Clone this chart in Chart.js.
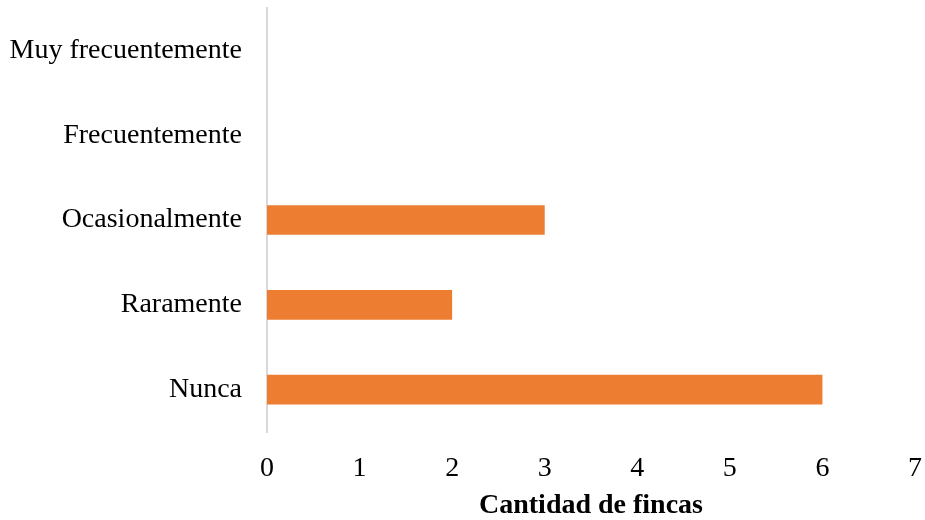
<!DOCTYPE html>
<html>
<head>
<meta charset="utf-8">
<script src="https://cdn.jsdelivr.net/npm/chart.js@4"></script>
<style>
  html, body { margin: 0; padding: 0; background: #fff; }
  #wrap { width: 925px; height: 520px; }
</style>
</head>
<body>
<div id="wrap"><canvas id="chart" width="925" height="520"></canvas></div>
<script>
const categorias = ['Muy frecuentemente', 'Frecuentemente', 'Ocasionalmente', 'Raramente', 'Nunca'];
const cantidades = [0, 0, 3, 2, 6];
const tituloEje = 'Cantidad de fincas';

const fuente = 'Liberation Serif, Times New Roman, serif';

// quitar el relleno extra que Chart.js añade por las etiquetas de los extremos
const sinRelleno = s => { s.paddingTop = 0; s.paddingBottom = 0; s.paddingLeft = 0; s.paddingRight = 0; };

new Chart(document.getElementById('chart').getContext('2d'), {
  type: 'bar',
  data: {
    labels: categorias,
    datasets: [{
      data: cantidades,
      backgroundColor: '#ED7D31',
      barPercentage: 0.7,
      categoryPercentage: 0.5
    }]
  },
  options: {
    indexAxis: 'y',
    responsive: false,
    animation: false,
    layout: { padding: { top: 8, left: 10, right: 10, bottom: 0 } },
    plugins: {
      legend: { display: false },
      tooltip: { enabled: false }
    },
    scales: {
      x: {
        min: 0,
        max: 7,
        afterFit: s => { sinRelleno(s); s.height = 88; },
        ticks: { stepSize: 1, color: '#000', font: { family: fuente, size: 28, lineHeight: 1.2 }, padding: 20 },
        grid: { display: false, drawTicks: false },
        border: { display: false },
        title: {
          display: true,
          text: tituloEje,
          color: '#000',
          font: { family: fuente, size: 28, weight: 'bold', lineHeight: 1.0 },
          padding: { top: 4, bottom: 0 }
        }
      },
      y: {
        afterFit: s => { sinRelleno(s); s.width = 257; },
        ticks: { color: '#000', font: { family: fuente, size: 28 }, padding: 25 },
        grid: { display: false, drawTicks: false },
        border: { display: true, color: '#d9d9d9', width: 2 }
      }
    }
  }
});
</script>
</body>
</html>
